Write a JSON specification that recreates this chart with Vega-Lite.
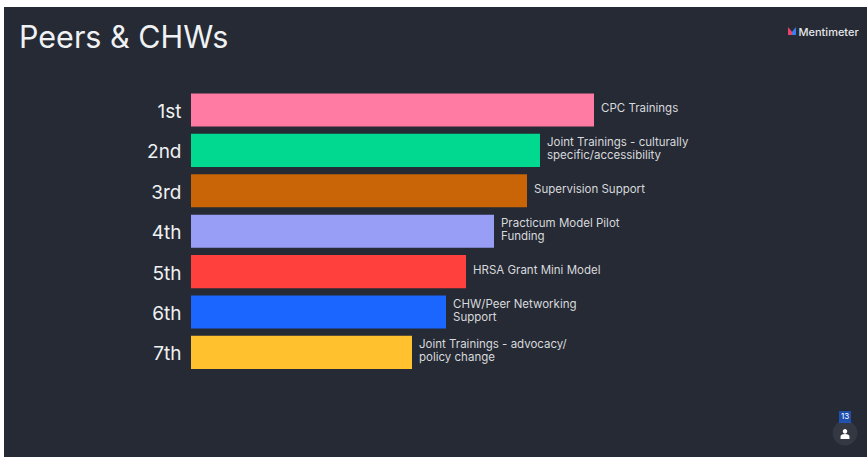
{
"$schema":"https://vega.github.io/schema/vega-lite/v6.json",
"autosize":{"type":"none"},
"padding":{"left":4,"top":7,"right":0,"bottom":0},
"width":863,"height":450,
"background":"#ffffff",
"view":{"fill":"#252A34","stroke":null},
"title":{"text":"Peers & CHWs","anchor":"start","frame":"group","orient":"top","offset":-71,"dx":15,"baseline":"alphabetic","font":"Inter","fontSize":30.5,"fontWeight":400,"color":"#F0F1F3"},
"data":{"values":[
{"rank":"1st","score":403,"label":"CPC Trainings"},
{"rank":"2nd","score":349,"label":"Joint Trainings - culturally","label2":"specific/accessibility"},
{"rank":"3rd","score":336,"label":"Supervision Support"},
{"rank":"4th","score":303,"label":"Practicum Model Pilot","label2":"Funding"},
{"rank":"5th","score":275,"label":"HRSA Grant Mini Model"},
{"rank":"6th","score":255,"label":"CHW/Peer Networking","label2":"Support"},
{"rank":"7th","score":221,"label":"Joint Trainings - advocacy/","label2":"policy change"}
]},
"layer":[
{
"encoding":{
"y":{"field":"rank","type":"nominal","sort":null,"title":null,
"scale":{"domain":["1st","2nd","3rd","4th","5th","6th","7th"],"range":[82.8,365.6],"paddingInner":0.18,"paddingOuter":0.09},
"axis":{"orient":"left","offset":-177,"domain":false,"ticks":false,"labelPadding":0,"labelFont":"Inter","labelFontSize":19,"labelFontWeight":400,"labelOffset":2,"labelColor":"#F0F1F3","labelAlign":"right"}},
"x":{"field":"score","type":"quantitative","title":"Mentimeter","scale":{"domain":[-187,676],"nice":false,"zero":false},
"axis":{"orient":"top","labels":false,"ticks":false,"domain":false,"grid":false,"titleFont":"Inter","titleFontSize":11,"titleFontWeight":500,"titleColor":"#E4E5E8","titleX":794,"titleY":28,"titleAlign":"left","titleBaseline":"alphabetic"}}
},
"layer":[
{"mark":{"type":"bar"},
"encoding":{
"x2":{"datum":0},
"color":{"field":"rank","type":"nominal","sort":null,"legend":null,
"scale":{"domain":["1st","2nd","3rd","4th","5th","6th","7th"],"range":["#FF7BA3","#00D98F","#C96507","#989EF5","#FF403D","#1B66FF","#FFC22E"]}}}},
{"transform":[{"filter":"!datum.label2"}],
"mark":{"type":"text","align":"left","baseline":"middle","dx":7,"dy":-1,"font":"Inter","fontSize":11.5,"color":"#D8D9DC"},
"encoding":{"text":{"field":"label","type":"nominal"}}},
{"transform":[{"filter":"datum.label2"}],
"mark":{"type":"text","align":"left","baseline":"middle","dx":7,"dy":-7.5,"font":"Inter","fontSize":11.5,"color":"#D8D9DC"},
"encoding":{"text":{"field":"label","type":"nominal"}}},
{"transform":[{"filter":"datum.label2"}],
"mark":{"type":"text","align":"left","baseline":"middle","dx":7,"dy":5.5,"font":"Inter","fontSize":11.5,"color":"#D8D9DC"},
"encoding":{"text":{"field":"label2","type":"nominal"}}}
]},
{"data":{"values":[{"p":1}]},"mark":{"type":"point","filled":true,"opacity":1,"size":64,"color":"#E8436A","shape":"M-1,-1 L0,0.2 L0,1 L-1,1 Z"},
"encoding":{"x":{"datum":601,"type":"quantitative"},"y":{"value":24}}},
{"data":{"values":[{"p":1}]},"mark":{"type":"point","filled":true,"opacity":1,"size":64,"color":"#3F7BEA","shape":"M1,-1 L1,1 L0,1 L0,0.2 Z"},
"encoding":{"x":{"datum":601,"type":"quantitative"},"y":{"value":24}}},
{"data":{"values":[{"p":1}]},"mark":{"type":"circle","size":616,"color":"#3A3F49"},
"encoding":{"x":{"datum":654,"type":"quantitative"},"y":{"value":426}}},
{"data":{"values":[{"p":1}]},"mark":{"type":"square","size":144,"color":"#1B5FE0"},
"encoding":{"x":{"datum":654,"type":"quantitative"},"y":{"value":410}}},
{"data":{"values":[{"p":1}]},"mark":{"type":"text","text":"13","fontSize":8,"font":"Inter","color":"#FFFFFF"},
"encoding":{"x":{"datum":654,"type":"quantitative"},"y":{"value":410}}},
{"data":{"values":[{"p":1}]},"mark":{"type":"point","filled":true,"color":"#FFFFFF","opacity":1,"size":320,"shape":"M-0.5,0.55 L-0.5,0.3 Q-0.5,0 0,0 Q0.5,0 0.5,0.3 L0.5,0.55 Z M-0.25,-0.3 A0.25,0.27 0 1 1 0.25,-0.3 A0.25,0.27 0 1 1 -0.25,-0.3 Z"},
"encoding":{"x":{"datum":654,"type":"quantitative"},"y":{"value":427}}}
]
}
